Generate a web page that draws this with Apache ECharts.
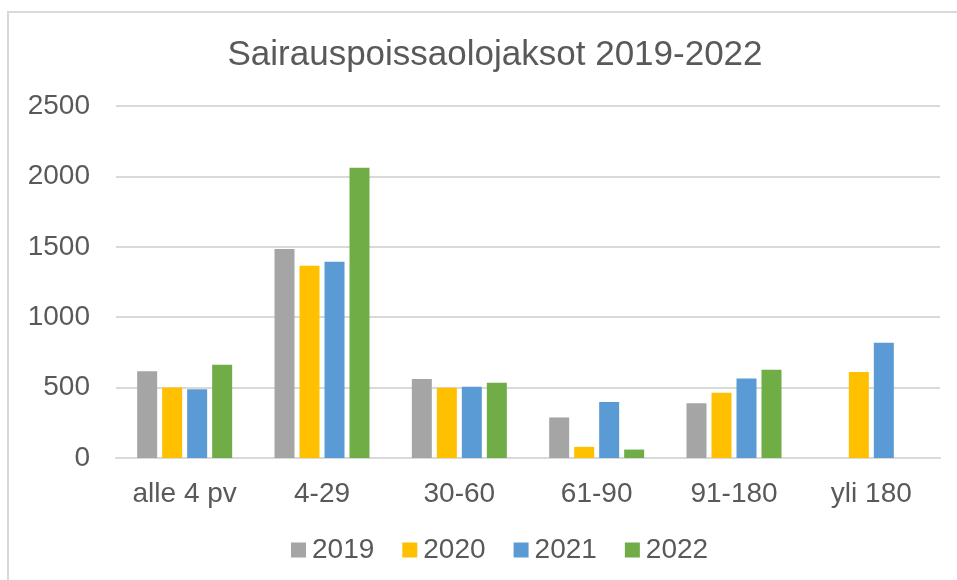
<!DOCTYPE html>
<html>
<head>
<meta charset="utf-8">
<script src="https://cdn.jsdelivr.net/npm/echarts@6/dist/echarts.min.js"></script>
<style>
  html, body { margin: 0; padding: 0; background: #fff; }
  #main { width: 957px; height: 580px; }
</style>
</head>
<body>
<div id="main"></div>
<script>
// kategoriat ja arvot luettu kuvasta
const categories = ["alle 4 pv", "4-29", "30-60", "61-90", "91-180", "yli 180"];
const years = ["2019", "2020", "2021", "2022"];
const values2019 = [617, 1485, 561, 288, 388, null];
const values2020 = [500, 1366, 499, 79, 464, 610];
const values2021 = [489, 1394, 506, 398, 564, 819];
const values2022 = [663, 2062, 534, 60, 626, null];
const yTicks = { min: 0, max: 2500, interval: 500 };

const colors = ["#A5A5A5", "#FFC000", "#5B9BD5", "#70AD47"];
const seriesValues = [values2019, values2020, values2021, values2022];
const textColor = "#595959";
const font = "'Liberation Sans', Arial, sans-serif";

const chart = echarts.init(document.getElementById("main"));

chart.setOption({
  backgroundColor: "#fff",
  animation: false,
  color: colors,
  textStyle: { fontFamily: font },
  graphic: [{
    type: "rect",
    shape: { x: 8, y: 12, width: 1000, height: 1000 },
    style: { fill: "none", stroke: "#d9d9d9", lineWidth: 2 },
    silent: true
  }],
  title: {
    text: "Sairauspoissaolojaksot 2019-2022",
    left: 490,
    textAlign: "center",
    top: 33,
    textStyle: { color: textColor, fontSize: 35, fontWeight: "normal", fontFamily: font }
  },
  legend: {
    data: years,
    left: 286,
    top: 531,
    itemWidth: 15,
    itemHeight: 15,
    itemGap: 28,
    icon: "rect",
    textStyle: { color: textColor, fontSize: 28, fontFamily: font, padding: [0, 0, 0, 1] }
  },
  grid: { left: 116, right: 17, top: 106, bottom: 122, containLabel: false },
  xAxis: {
    type: "category",
    data: categories,
    axisLine: { show: true, lineStyle: { color: "#d9d9d9", width: 2 } },
    axisTick: { show: false },
    axisLabel: { color: textColor, fontSize: 28, fontFamily: font, margin: 22 }
  },
  yAxis: {
    type: "value",
    min: yTicks.min,
    max: yTicks.max,
    interval: yTicks.interval,
    axisLine: { show: false },
    axisTick: { show: false },
    splitLine: { lineStyle: { color: "#d9d9d9", width: 2 } },
    axisLabel: {
      color: textColor, fontSize: 28, fontFamily: font, margin: 26,
      formatter: (v) => String(v)
    }
  },
  series: years.map((y, i) => ({
    name: y,
    type: "bar",
    data: seriesValues[i],
    barWidth: 20,
    barGap: "25%",
    itemStyle: { color: colors[i] }
  }))
});
</script>
</body>
</html>
